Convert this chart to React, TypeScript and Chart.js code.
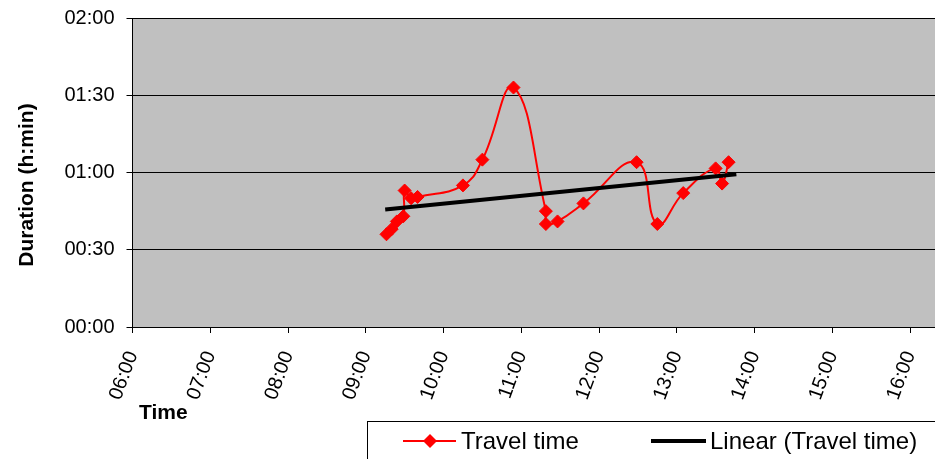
import React, { useEffect, useRef } from 'react';
import { Chart, registerables } from 'chart.js';

Chart.register(...registerables);

// ---- data ----
const departureTimes = ['09:16', '09:20', '09:24', '09:29', '09:30', '09:35', '09:40', '10:15', '10:30', '10:54', '11:19', '11:19', '11:28', '11:48', '12:29', '12:45', '13:05', '13:30', '13:35', '13:40'];
const travelMinutes = [36, 38, 41, 43, 53, 50, 50.5, 55, 65, 93, 45, 40, 41, 48, 64, 40, 52, 61.6, 55.7, 64];
const trendTimes = ['09:15', '13:46'];
const trendMinutes = [45.6, 59.3];
const xTickLabels = ['06:00', '07:00', '08:00', '09:00', '10:00', '11:00', '12:00', '13:00', '14:00', '15:00', '16:00'];
const yTickLabels = ['00:00', '00:30', '01:00', '01:30', '02:00'];
const seriesName = 'Travel time';
const trendName = 'Linear (Travel time)';
const xTitle = 'Time';
const yTitle = 'Duration (h:min)';

const FONT = "'Liberation Sans', Arial, sans-serif";

const toHours = (s: string) => {
  const [h, m] = s.split(':').map(Number);
  return h + m / 60;
};
const toMinutes = (s: string) => {
  const [h, m] = s.split(':').map(Number);
  return h * 60 + m;
};
const fmt = (v: number, unitsPerHour: number) => {
  const total = Math.round(v * (60 / unitsPerHour));
  const h = Math.floor(total / 60);
  const m = total % 60;
  return String(h).padStart(2, '0') + ':' + String(m).padStart(2, '0');
};

const overlayPlugin = {
  id: 'overlay',
  beforeDraw(chart: any) {
    const { ctx, chartArea } = chart;
    ctx.save();
    ctx.fillStyle = '#C0C0C0';
    ctx.fillRect(chartArea.left, chartArea.top, chartArea.right - chartArea.left, chartArea.bottom - chartArea.top);
    ctx.restore();
  },
  afterDraw(chart: any) {
    const { ctx } = chart;
    ctx.save();
    // axis titles
    ctx.fillStyle = '#000';
    ctx.font = `bold 21px ${FONT}`;
    ctx.textBaseline = 'middle';
    ctx.textAlign = 'left';
    ctx.fillText(xTitle, 139, 413);
    ctx.save();
    ctx.translate(27, 185);
    ctx.rotate(-Math.PI / 2);
    ctx.textAlign = 'center';
    ctx.fillText(yTitle, 0, 0);
    ctx.restore();

    // legend box
    ctx.strokeStyle = '#000';
    ctx.lineWidth = 1;
    ctx.strokeRect(367.5, 421.5, 700, 100);
    const ly = 441;
    // item 1
    ctx.strokeStyle = '#FF0000';
    ctx.lineWidth = 2;
    ctx.beginPath();
    ctx.moveTo(403, ly);
    ctx.lineTo(456, ly);
    ctx.stroke();
    ctx.fillStyle = '#FF0000';
    ctx.beginPath();
    ctx.moveTo(430 - 7, ly);
    ctx.lineTo(430, ly - 7);
    ctx.lineTo(430 + 7, ly);
    ctx.lineTo(430, ly + 7);
    ctx.closePath();
    ctx.fill();
    ctx.fillStyle = '#000';
    ctx.font = `24px ${FONT}`;
    ctx.textAlign = 'left';
    ctx.textBaseline = 'middle';
    ctx.fillText(seriesName, 461, ly + 1);
    // item 2
    ctx.strokeStyle = '#000';
    ctx.lineWidth = 4;
    ctx.beginPath();
    ctx.moveTo(651, ly);
    ctx.lineTo(706, ly);
    ctx.stroke();
    ctx.fillText(trendName, 710, ly + 1);
    ctx.restore();
  },
};

export default function App() {
  const ref = useRef<HTMLCanvasElement | null>(null);

  useEffect(() => {
    document.body.style.margin = '0';
    const canvas = ref.current!;
    const xTicks = xTickLabels.map(toHours);
    const yTicks = yTickLabels.map(toMinutes);
    const hourPx = 77.75;
    const xMin = xTicks[0];
    const xMax = xMin + (935 - 132.5) / hourPx;
    const yMin = yTicks[0];
    const yMax = yTicks[yTicks.length - 1];

    const chart = new Chart(canvas, {
      type: 'scatter',
      data: {
        datasets: [
          {
            label: seriesName,
            data: departureTimes.map((t, i) => ({ x: toHours(t), y: travelMinutes[i] })),
            showLine: true,
            borderColor: '#FF0000',
            backgroundColor: '#FF0000',
            borderWidth: 2,
            tension: 0.45,
            pointStyle: 'rectRot',
            pointRadius: 6.5,
            pointBorderWidth: 1,
            pointBorderColor: '#FF0000',
            pointBackgroundColor: '#FF0000',
            order: 2,
          },
          {
            label: trendName,
            data: trendTimes.map((t, i) => ({ x: toHours(t), y: trendMinutes[i] })),
            showLine: true,
            borderColor: '#000000',
            backgroundColor: '#000000',
            borderWidth: 4,
            borderCapStyle: 'butt',
            pointRadius: 0,
            tension: 0,
            order: 1,
          },
        ],
      },
      options: {
        animation: false,
        responsive: false,
        devicePixelRatio: 1,
        layout: { autoPadding: false, padding: { top: 18, left: 0, right: 0, bottom: 0 } },
        plugins: {
          legend: { display: false },
          tooltip: { enabled: false },
          title: { display: false },
        },
        scales: {
          x: {
            type: 'linear',
            min: xMin,
            max: xMax,
            bounds: 'data',
            afterBuildTicks: (scale: any) => {
              scale.ticks = xTicks.map((v) => ({ value: v }));
              scale.min = xMin;
              scale.max = xMax;
            },
            afterFit: (scale: any) => {
              scale.height = 132;
              scale.paddingLeft = 0;
              scale.paddingRight = 0;
            },
            ticks: {
              autoSkip: false,
              minRotation: 70,
              maxRotation: 70,
              padding: 15,
              color: '#000',
              font: { family: FONT, size: 20 },
              callback: (v: any) => fmt(Number(v), 1),
            },
            grid: {
              drawOnChartArea: false,
              drawTicks: true,
              tickLength: 6,
              color: '#000',
            },
            border: { color: '#000', width: 1 },
          },
          y: {
            type: 'linear',
            min: yMin,
            max: yMax,
            bounds: 'data',
            afterBuildTicks: (scale: any) => {
              scale.ticks = yTicks.map((v) => ({ value: v }));
              scale.min = yMin;
              scale.max = yMax;
            },
            afterFit: (scale: any) => {
              scale.width = 132.5;
              scale.paddingTop = 0;
              scale.paddingBottom = 0;
            },
            ticks: {
              padding: 12,
              color: '#000',
              font: { family: FONT, size: 20 },
              callback: (v: any) => fmt(Number(v), 60),
            },
            grid: {
              color: '#000',
              lineWidth: 1,
              drawTicks: true,
              tickLength: 6,
            },
            border: { color: '#000', width: 1 },
          },
        },
      },
      plugins: [overlayPlugin],
    } as any);

    return () => chart.destroy();
  }, []);

  return (
    <div style={{ position: 'absolute', left: 0, top: 0, width: 935, height: 459, background: '#fff' }}>
      <canvas ref={ref} width={935} height={459} style={{ display: 'block', width: 935, height: 459 }} />
    </div>
  );
}
